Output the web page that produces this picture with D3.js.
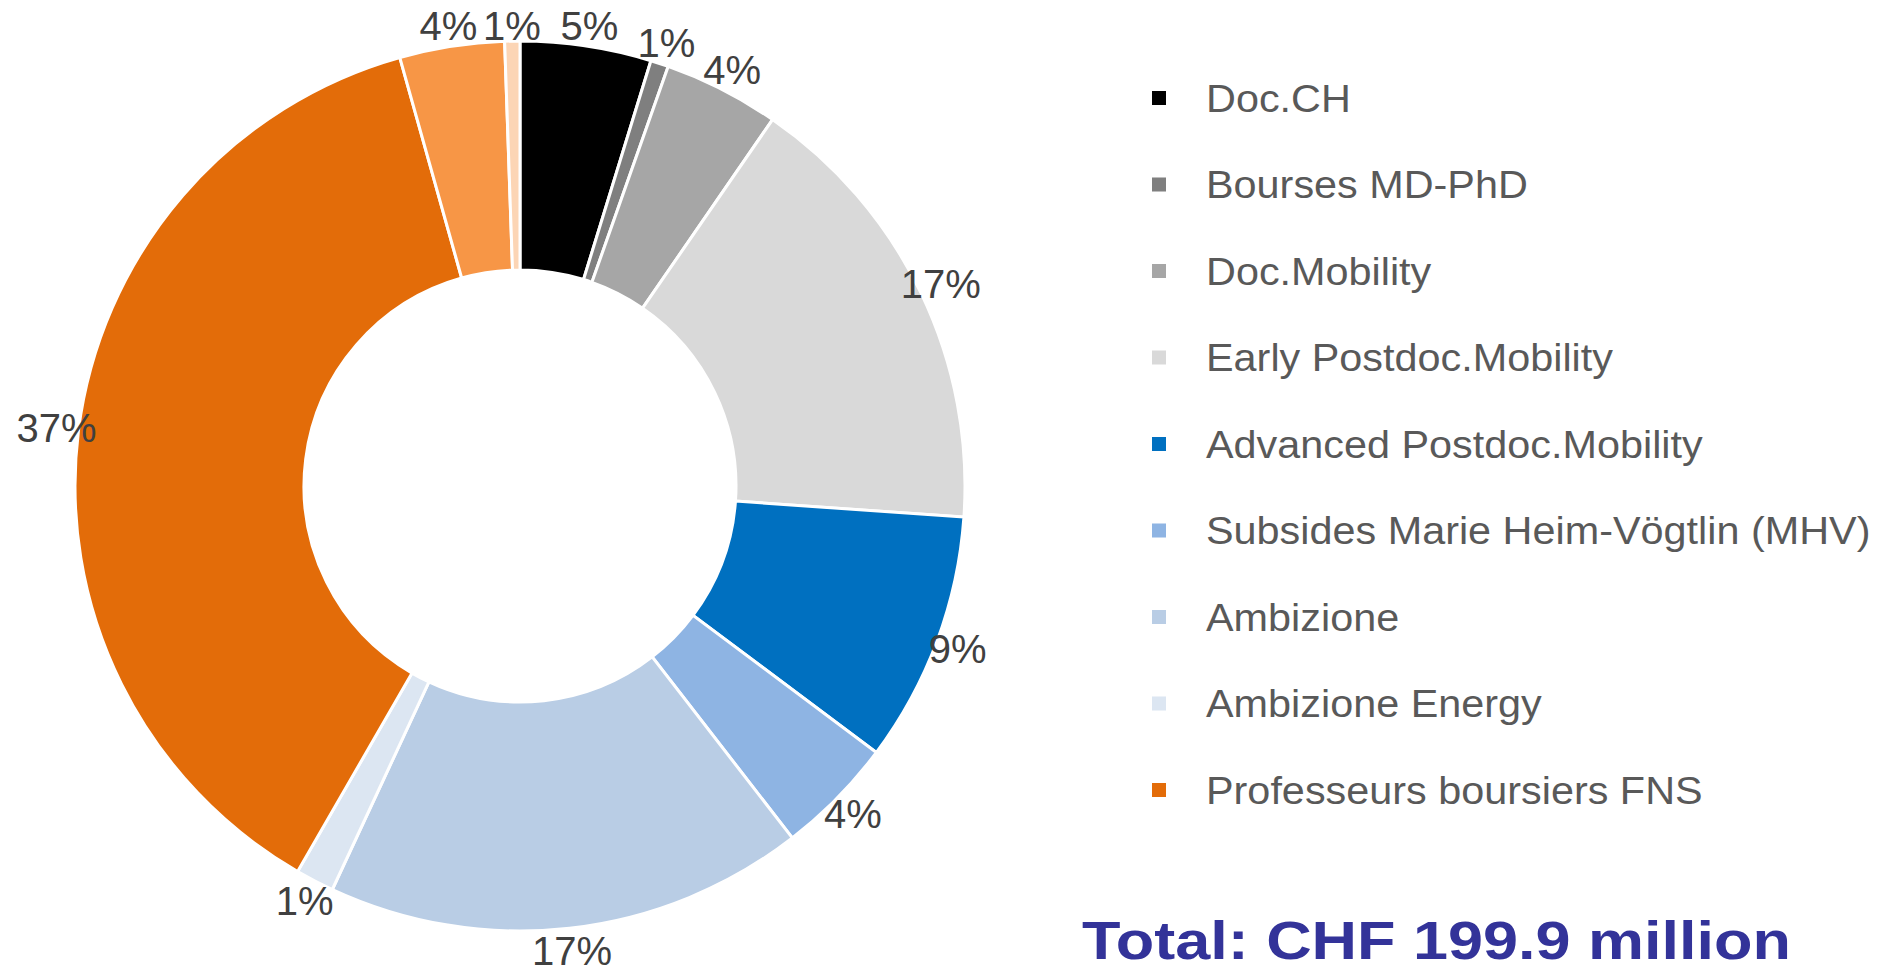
<!DOCTYPE html>
<html>
<head>
<meta charset="utf-8">
<script src="https://cdn.jsdelivr.net/npm/d3@7"></script>
<style>
  html, body { margin: 0; padding: 0; background: #ffffff; }
  svg { display: block; }
</style>
</head>
<body>
<svg id="chart" width="1903" height="977"></svg>
<script>
// Data (CHF million; total 199.9)
const categories = [
  "Doc.CH",
  "Bourses MD-PhD",
  "Doc.Mobility",
  "Early Postdoc.Mobility",
  "Advanced Postdoc.Mobility",
  "Subsides Marie Heim-Vögtlin (MHV)",
  "Ambizione",
  "Ambizione Energy",
  "Professeurs boursiers FNS",
  "Autre 1",
  "Autre 2"
];
const values = [9.5, 1.3, 8.4, 33.0, 18.2, 8.6, 34.8, 2.8, 74.6, 7.6, 1.1];
const colors = ["#000000", "#7f7f7f", "#a6a6a6", "#d9d9d9", "#0070c0", "#8eb4e3",
                "#b9cde5", "#dce6f2", "#e36c09", "#f79646", "#fcd5b5"];
const legendCount = 9;   // only the first nine entries are visible in the legend
const totalLabel = "Total: CHF 199.9 million";

const svg = d3.select("#chart");
const cx = 520, cy = 486, outerR = 445, innerR = 216, labelR = 467;
const labelTopLimit = 26;   // labels are kept inside the plot area

const data = categories.map((c, i) => ({ name: c, value: values[i], color: colors[i] }));
const total = d3.sum(values);

const pie = d3.pie().sort(null).value(d => d.value).startAngle(0).endAngle(2 * Math.PI);
const arcs = pie(data);
const arc = d3.arc().innerRadius(innerR).outerRadius(outerR);
const labelArc = d3.arc().innerRadius(labelR).outerRadius(labelR);

const g = svg.append("g").attr("transform", `translate(${cx},${cy})`);

g.selectAll("path.slice")
  .data(arcs)
  .join("path")
  .attr("class", "slice")
  .attr("d", arc)
  .attr("fill", d => d.data.color)
  .attr("stroke", "#ffffff")
  .attr("stroke-width", 3)
  .attr("stroke-linejoin", "miter");

function labelPos(d) {
  const [x, y] = labelArc.centroid(d);
  return [x, Math.max(y, labelTopLimit - cy)];
}

g.selectAll("text.lbl")
  .data(arcs)
  .join("text")
  .attr("class", "lbl")
  .attr("transform", d => `translate(${labelPos(d)})`)
  .attr("text-anchor", "middle")
  .attr("dy", "0.36em")
  .attr("font-family", "'Liberation Sans', Arial, sans-serif")
  .attr("font-size", 40)
  .attr("fill", "#404040")
  .text(d => Math.round(d.data.value / total * 100) + "%");

// Legend
const legendY = d3.scalePoint()
  .domain(categories.slice(0, legendCount))
  .range([98, 790]);

const lg = svg.append("g");
const item = lg.selectAll("g.item")
  .data(data.slice(0, legendCount))
  .join("g")
  .attr("class", "item")
  .attr("transform", d => `translate(0,${legendY(d.name)})`);

item.append("rect")
  .attr("x", 1152)
  .attr("y", -7)
  .attr("width", 14)
  .attr("height", 14)
  .attr("fill", d => d.color);

item.append("text")
  .attr("transform", "translate(1206,0) scale(1.075,1)")
  .attr("dy", "0.36em")
  .attr("font-family", "'Liberation Sans', Arial, sans-serif")
  .attr("font-size", 38.5)
  .attr("fill", "#595959")
  .text(d => d.name);

svg.append("text")
  .attr("transform", "translate(1082,959) scale(1.177,1)")
  .attr("font-family", "'Liberation Sans', Arial, sans-serif")
  .attr("font-weight", "bold")
  .attr("font-size", 53.5)
  .attr("fill", "#333399")
  .text(totalLabel);
</script>
</body>
</html>
